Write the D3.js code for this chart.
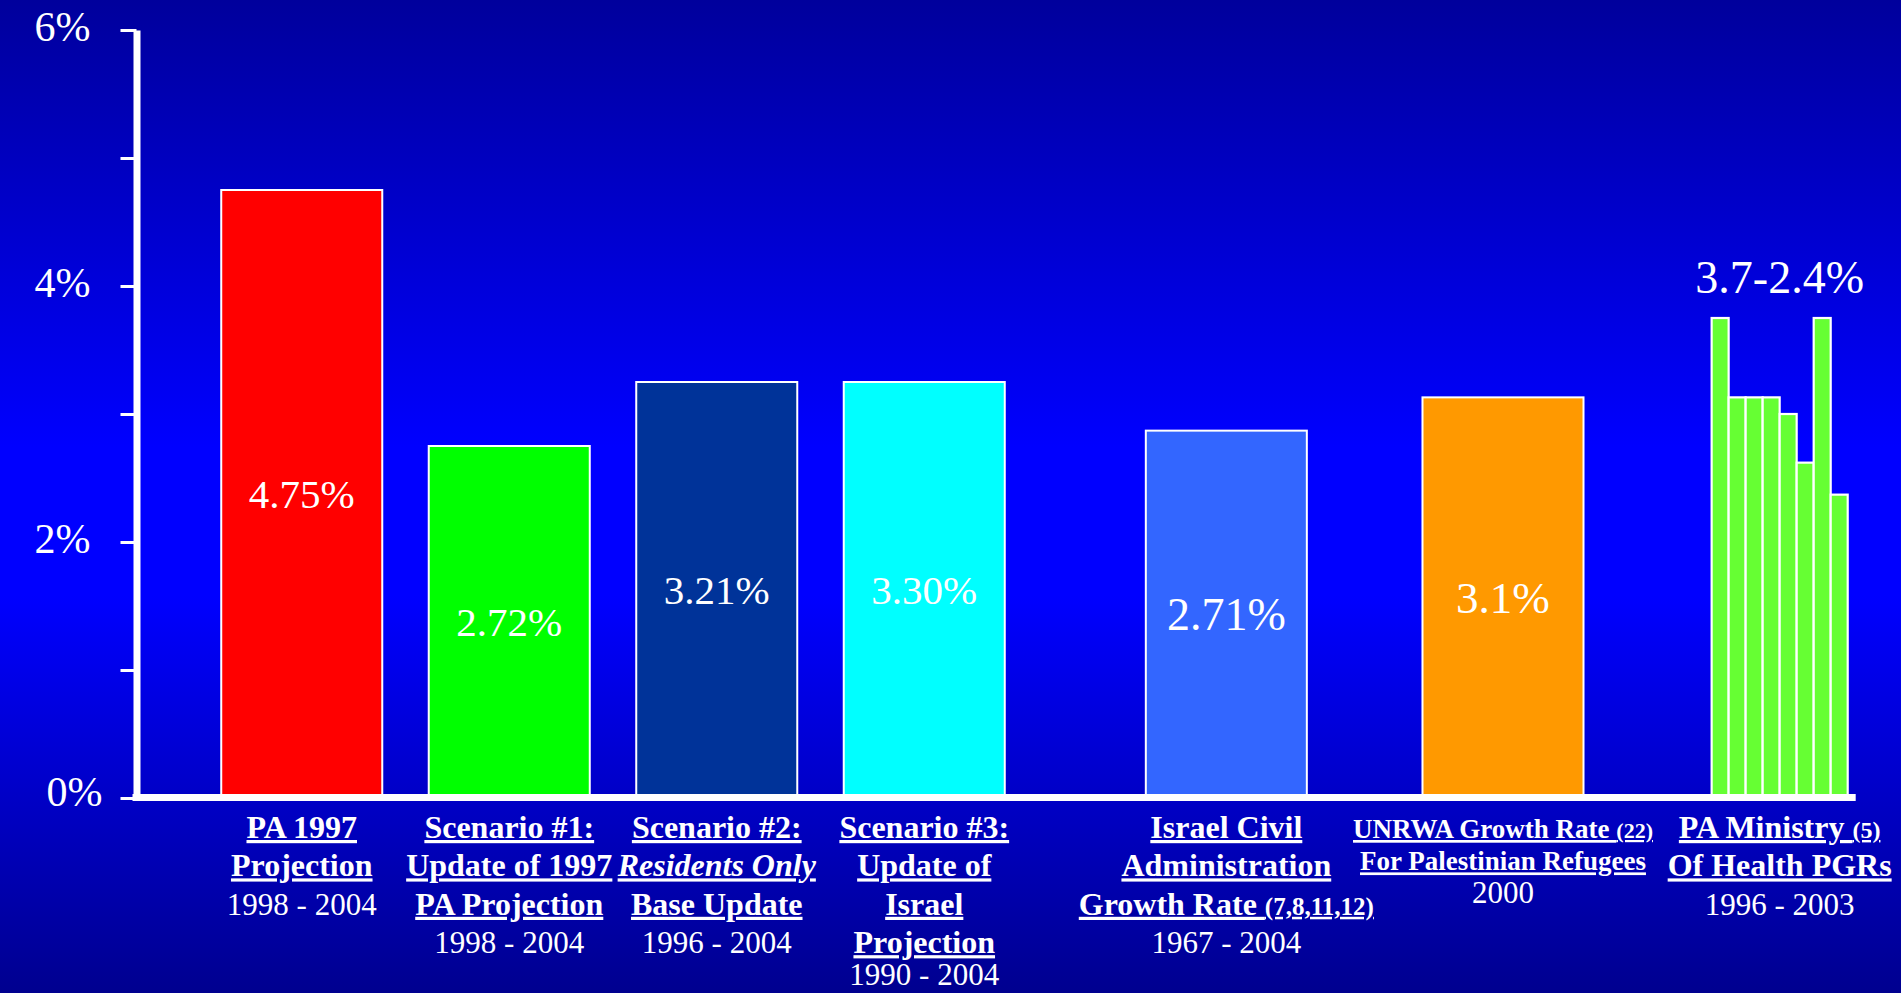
<!DOCTYPE html>
<html>
<head>
<meta charset="utf-8">
<script src="https://cdn.jsdelivr.net/npm/d3@7"></script>
<style>
  html, body { margin: 0; padding: 0; overflow: hidden; background: #0000c0; }
  svg { display: block; }
  text { font-family: "Liberation Serif", "Times New Roman", serif; white-space: pre; }
</style>
</head>
<body>
<svg id="chart" width="1901" height="993"></svg>
<script>
// ---------------- DATA ----------------
const categories = [
  "PA 1997 Projection",
  "Scenario #1",
  "Scenario #2",
  "Scenario #3",
  "Israel Civil Administration",
  "UNRWA",
  "PA Ministry of Health"
];
const groups = ["Projections", "Other sources"];
const categoryGroup = ["Projections", "Projections", "Projections", "Projections",
                       "Other sources", "Other sources", "Other sources"];
// single-bar growth rates (%); the last category is drawn from pgrValues
const growthRates = [4.75, 2.75, 3.25, 3.25, 2.87, 3.13, null];
const valueLabels = ["4.75%", "2.72%", "3.21%", "3.30%", "2.71%", "3.1%", "3.7-2.4%"];
// title lines: *...* = italic, [...] = reference numbers
const titleLines = [
  ["PA 1997", "Projection"],
  ["Scenario #1:", "Update of 1997", "PA Projection"],
  ["Scenario #2:", "*Residents Only*", "Base Update"],
  ["Scenario #3:", "Update of", "Israel", "Projection"],
  ["Israel Civil", "Administration", "Growth Rate [7,8,11,12]"],
  ["UNRWA Growth Rate [22]", "For Palestinian Refugees"],
  ["PA Ministry [5]", "Of Health PGRs"]
];
const periods = ["1998 - 2004", "1998 - 2004", "1996 - 2004", "1990 - 2004",
                 "1967 - 2004", "2000", "1996 - 2003"];
// PA Ministry of Health yearly population growth rates (%)
const pgrYears = ["1996", "1997", "1998", "1999", "2000", "2001", "2002", "2003"];
const pgrValues = [3.75, 3.13, 3.13, 3.13, 3.00, 2.62, 3.75, 2.37];
const yTicks = [0, 1, 2, 3, 4, 5, 6];
const yTickLabels = ["0%", "", "2%", "", "4%", "", "6%"];

// ---------------- STYLE ----------------
const barColors = {
  "PA 1997 Projection": "#ff0000",
  "Scenario #1": "#00ff00",
  "Scenario #2": "#003399",
  "Scenario #3": "#00ffff",
  "Israel Civil Administration": "#3366ff",
  "UNRWA": "#ff9900"
};
const pgrColor = "#66ff33";
const valueFont = { "Israel Civil Administration": 46, "UNRWA": 45, "PA Ministry of Health": 46 };
const titleFont = { "UNRWA": 27 };
const refFont = { "Israel Civil Administration": 25, "UNRWA": 22, "PA Ministry of Health": 24 };

// ---------------- LAYOUT ----------------
const W = 1901, H = 993;
const svg = d3.select("#chart");

const defs = svg.append("defs");
const grad = defs.append("linearGradient").attr("id", "bg")
  .attr("x1", 0).attr("y1", 0).attr("x2", 0).attr("y2", 1);
[[0, "#00009c"], [0.45, "#0000ff"], [0.6, "#0000ff"], [1, "#00008f"]]
  .forEach(([o, c]) => grad.append("stop").attr("offset", o).attr("stop-color", c));
svg.append("rect").attr("width", W).attr("height", H).attr("fill", "url(#bg)");

const y = d3.scaleLinear().domain([0, 6]).range([798, 30]);
const outer = d3.scaleBand().domain(groups).range([198, 1918]).paddingInner(0.0674);
const inner = {};
groups.forEach(g => {
  inner[g] = d3.scaleBand()
    .domain(categories.filter((c, i) => categoryGroup[i] === g))
    .range([0, outer.bandwidth()]);
});
const cx = c => {
  const g = categoryGroup[categories.indexOf(c)];
  return outer(g) + inner[g](c) + inner[g].bandwidth() / 2;
};
const barW = d3.min(groups, g => inner[g].bandwidth()) * 0.776;

const singles = categories.map((c, i) => ({ c, v: growthRates[i], label: valueLabels[i] }))
  .filter(d => d.v != null);

// main bars
svg.append("g").selectAll("rect").data(singles).join("rect")
  .attr("x", d => cx(d.c) - barW / 2)
  .attr("y", d => y(d.v))
  .attr("width", barW)
  .attr("height", d => y(0) - y(d.v))
  .attr("fill", d => barColors[d.c])
  .attr("stroke", "#ffffff")
  .attr("stroke-width", 2);

// PA Ministry small bars
const pgrCat = categories[categories.length - 1];
const pgrW = barW * 0.845;
const sub = d3.scaleBand().domain(pgrYears)
  .range([cx(pgrCat) - pgrW / 2, cx(pgrCat) + pgrW / 2]);
const pgrData = pgrYears.map((yr, i) => ({ yr, v: pgrValues[i] }));
svg.append("g").selectAll("rect").data(pgrData).join("rect")
  .attr("x", d => sub(d.yr))
  .attr("y", d => y(d.v))
  .attr("width", sub.bandwidth())
  .attr("height", d => y(0) - y(d.v))
  .attr("fill", pgrColor)
  .attr("stroke", "#ffffff")
  .attr("stroke-width", 2.2);

// value labels
svg.append("g").selectAll("text").data(singles).join("text")
  .attr("x", d => cx(d.c))
  .attr("y", d => y(d.v / 2))
  .attr("dy", "0.33em")
  .attr("text-anchor", "middle")
  .attr("fill", "#ffffff")
  .attr("font-size", d => valueFont[d.c] || 41)
  .text(d => d.label);

svg.append("text")
  .attr("x", cx(pgrCat))
  .attr("y", y(d3.max(pgrValues)) - 25)
  .attr("text-anchor", "middle")
  .attr("fill", "#ffffff")
  .attr("font-size", valueFont[pgrCat])
  .text(valueLabels[valueLabels.length - 1]);

// baseline
const axisX = 136.5;
svg.append("line")
  .attr("x1", axisX - 4).attr("x2", sub.range()[1] + 8)
  .attr("y1", y(0) - 0.5).attr("y2", y(0) - 0.5)
  .attr("stroke", "#ffffff").attr("stroke-width", 7);

// y axis
const yAxis = svg.append("g")
  .attr("transform", `translate(${axisX},0)`)
  .call(d3.axisLeft(y).tickValues(yTicks)
    .tickFormat((d, i) => yTickLabels[i])
    .tickSize(16).tickSizeOuter(0).tickPadding(30));
yAxis.select(".domain").attr("stroke", "#ffffff").attr("stroke-width", 7);
yAxis.selectAll(".tick line").attr("stroke", "#ffffff").attr("stroke-width", 3);
yAxis.selectAll(".tick text")
  .attr("fill", "#ffffff")
  .attr("font-size", 42)
  .attr("font-family", "'Liberation Serif', 'Times New Roman', serif")
  .attr("dy", "0.24em");
yAxis.selectAll(".tick text").filter(d => d === 0)
  .attr("dx", 12).attr("dy", "0.17em");

// category labels
const firstBaseline = 838;
categories.forEach((c, i) => {
  const x = cx(c);
  const fs = titleFont[c] || 32;
  let yy = firstBaseline;
  titleLines[i].forEach(line => {
    let italic = false;
    let txt = line;
    if (txt.startsWith("*") && txt.endsWith("*")) { italic = true; txt = txt.slice(1, -1); }
    const m = txt.match(/^(.*?)\s*\[(.*)\]$/);
    const t = svg.append("text")
      .attr("x", x).attr("y", yy)
      .attr("text-anchor", "middle")
      .attr("fill", "#ffffff")
      .attr("font-weight", "bold")
      .attr("font-style", italic ? "italic" : "normal")
      .attr("font-size", fs)
      .attr("text-decoration", "underline");
    if (m) {
      t.append("tspan").text(m[1] + " ");
      t.append("tspan").attr("font-size", refFont[c] || 22).text("(" + m[2] + ")");
    } else {
      t.append("tspan").text(txt);
    }
    yy += fs * 1.2;
  });
  svg.append("text")
    .attr("x", x).attr("y", Math.min(yy, H - 8))
    .attr("text-anchor", "middle")
    .attr("fill", "#ffffff")
    .attr("font-size", 31)
    .text(periods[i]);
});
</script>
</body>
</html>
